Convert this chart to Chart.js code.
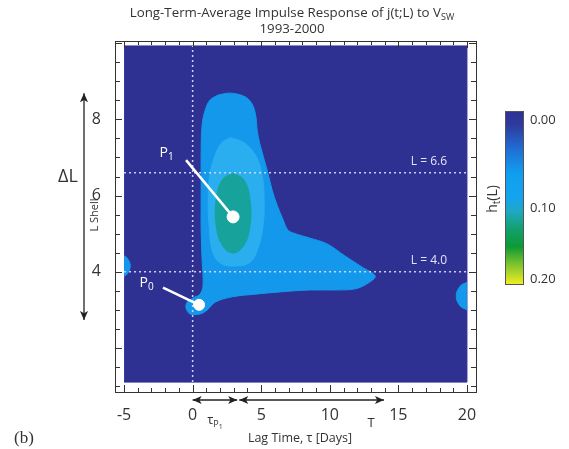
<!DOCTYPE html>
<html><head><meta charset="utf-8">
<script src="https://cdn.jsdelivr.net/npm/chart.js@4/dist/chart.umd.min.js"></script>
<style>html,body{margin:0;padding:0;background:#fff}#wrap{width:569px;height:449px;position:relative}</style>
</head><body><div id="wrap"><canvas id="c" width="569" height="449"></canvas></div>
<script>
// ---- data (x = lag time tau [days], y = L shell) ----
const xTickValues = [-5,-4,-3,-2,-1,0,1,2,3,4,5,6,7,8,9,10,11,12,13,14,15,16,17,18,19,20];
const xTickLabels = [-5,0,5,10,15,20];
const yTickValues = [1,1.5,2,2.5,3,3.5,4,4.5,5,5.5,6,6.5,7,7.5,8,8.5,9,9.5,10];
const yTickLabels = [4,6,8];
const plotBox = [[-5,1.1],[20,1.1],[20,9.93],[-5,9.93]];
// contour level ~0.02 (outer)
const level1 = [[1.86,8.64],[2.59,8.69],[3.32,8.66],[3.97,8.56],[4.41,8.35],[4.63,8.03],[4.70,7.72],[4.92,7.33],[5.43,6.67],[5.80,6.14],[6.16,5.75],[6.60,5.36],[6.96,5.09],[7.55,4.99],[8.57,4.88],[9.81,4.73],[11.12,4.41],[12.36,4.12],[13.31,3.89],[12.80,3.70],[11.85,3.55],[10.39,3.52],[8.57,3.52],[6.38,3.47],[4.55,3.41],[2.88,3.34],[1.64,3.20],[1.05,2.99],[0.54,2.89],[-0.19,2.89],[-0.48,3.05],[-0.40,3.20],[0.03,3.31],[0.54,3.41],[0.76,3.65],[0.69,4.31],[0.62,5.09],[0.62,6.14],[0.62,7.19],[0.69,7.85],[0.91,8.24],[1.27,8.51],[1.86,8.64]];
const blobLeft = [[-5,3.88],[-4.75,3.95],[-4.55,4.15],[-4.75,4.35],[-5,4.42]];
const blobRight = [[20,3.0],[19.5,3.1],[19.22,3.36],[19.5,3.62],[20,3.72]];
// contour level ~0.05
const level2 = [[2.73,7.52],[3.40,7.45],[4.05,7.30],[4.65,7.02],[5.07,6.54],[5.21,5.88],[5.14,5.23],[4.77,4.62],[4.19,4.25],[3.10,4.15],[2.00,4.23],[1.42,4.57],[1.20,5.23],[1.13,5.88],[1.25,6.54],[1.60,7.02],[2.10,7.38],[2.73,7.52]];
// contour level ~0.10 (core)
const level3 = [[2.95,6.59],[3.75,6.41],[4.19,5.88],[4.19,5.23],[3.75,4.70],[2.95,4.49],[2.15,4.70],[1.71,5.23],[1.71,5.88],[2.15,6.41],[2.95,6.59]];
const p1Point = [2.95,5.44];
const p0Point = [0.47,3.13];
const p1Leader = [[-0.48,6.93],[2.95,5.44]];
const p0Leader = [[-2.16,3.58],[0.47,3.13]];
const p1LabelPos = [-1.9,7.0];
const p0LabelPos = [-3.35,3.6];
const refL = [6.6,4.0];
const refLLabels = ['L = 6.6','L = 4.0'];
const refTau = 0;
const arrowTauP1 = [0,3.25];
const arrowT = [3.4,13.95];
const deltaLArrow = [2.73,8.69];
const colorbarTicks = ['0.00','0.10','0.20'];

const COL = {bg:'#2e3192', l1:'#1398ec', l2:'#2aaef0', l3:'#17a39c'};
const toXY = a => a.map(p => ({x:p[0], y:p[1]}));
function shape(d, color, order, tension){
  return {data: toXY(d), fill:'shape', backgroundColor:color, borderColor:color, borderWidth:1, pointRadius:0, tension:tension, order:order};
}
function dashed(d){
  return {data: toXY(d), fill:false, borderColor:'rgba(215,215,250,0.95)', borderWidth:1.5, borderDash:[2,3], pointRadius:0, order:3};
}

const FONT = '"Open Sans", "DejaVu Sans", sans-serif';

function drawArrowHead(ctx, x, y, ang, size){
  ctx.save(); ctx.translate(x,y); ctx.rotate(ang);
  ctx.beginPath(); ctx.moveTo(0,0); ctx.lineTo(-size, -size*0.45); ctx.lineTo(-size*0.75,0); ctx.lineTo(-size, size*0.45); ctx.closePath(); ctx.fill();
  ctx.restore();
}
function dblArrow(ctx,x1,y1,x2,y2){
  const a = Math.atan2(y2-y1,x2-x1);
  ctx.beginPath(); ctx.moveTo(x1,y1); ctx.lineTo(x2,y2); ctx.stroke();
  drawArrowHead(ctx,x2,y2,a,9); drawArrowHead(ctx,x1,y1,a+Math.PI,9);
}
function subText(ctx, parts, x, y, align){
  let w = 0;
  parts.forEach(p => { ctx.font = p[1]+'px '+FONT; w += ctx.measureText(p[0]).width; });
  let cx = align==='center' ? x - w/2 : (align==='right' ? x - w : x);
  ctx.textAlign = 'left';
  parts.forEach(p => { ctx.font = p[1]+'px '+FONT; ctx.fillText(p[0], cx, y + (p[2]||0)); cx += ctx.measureText(p[0]).width; });
}

const decor = {
  id:'decor',
  beforeDraw(chart){
    const ctx = chart.ctx; ctx.save(); ctx.fillStyle='#fff'; ctx.fillRect(0,0,chart.width,chart.height); ctx.restore();
  },
  afterDatasetsDraw(chart){
    const ctx = chart.ctx, xs = chart.scales.x, ys = chart.scales.y;
    ctx.save();
    ctx.fillStyle = '#ffffff'; ctx.textBaseline = 'alphabetic';
    subText(ctx, [['P',14,0],['1',10,3]], xs.getPixelForValue(p1LabelPos[0]), ys.getPixelForValue(p1LabelPos[1]), 'center');
    subText(ctx, [['P',14,0],['0',10,3]], xs.getPixelForValue(p0LabelPos[0]), ys.getPixelForValue(p0LabelPos[1]), 'center');
    ctx.fillStyle = '#e4e4f6';
    refL.forEach((L,i) => { subText(ctx, [[refLLabels[i],12,0]], xs.getPixelForValue(18.55), ys.getPixelForValue(L)-8, 'right'); });
    ctx.restore();
  },
  afterDraw(chart){
    const ctx = chart.ctx, xs = chart.scales.x, ys = chart.scales.y, a = chart.chartArea;
    ctx.save();
    ctx.strokeStyle = '#333'; ctx.lineWidth = 1;
    ctx.strokeRect(Math.round(a.left)+0.5, Math.round(a.top)+0.5, Math.round(a.right-a.left), Math.round(a.bottom-a.top));
    ctx.beginPath();
    xTickValues.forEach(v => {
      const px = Math.round(xs.getPixelForValue(v))+0.5; const len = (v%5===0)?7:4;
      ctx.moveTo(px, a.bottom); ctx.lineTo(px, a.bottom-len);
      ctx.moveTo(px, a.top); ctx.lineTo(px, a.top+len);
    });
    yTickValues.forEach(v => {
      const py = Math.round(ys.getPixelForValue(v))+0.5; const len = (v%2===0)?7:5;
      ctx.moveTo(a.left, py); ctx.lineTo(a.left+len, py);
      ctx.moveTo(a.right, py); ctx.lineTo(a.right-len, py);
    });
    ctx.stroke();
    ctx.fillStyle = '#333';
    subText(ctx, [['Long-Term-Average Impulse Response of j(t;L) to V',13.3,0],['SW',9,3]], 292, 17, 'center');
    subText(ctx, [['1993-2000',13.3,0]], 292, 33, 'center');
    subText(ctx, [['Lag Time, \u03c4 [Days]',12.5,0]], 300, 442, 'center');
    ctx.strokeStyle = '#222'; ctx.fillStyle = '#222'; ctx.lineWidth = 1.3;
    const ay = a.bottom + 8;
    dblArrow(ctx, xs.getPixelForValue(arrowTauP1[0]), ay, xs.getPixelForValue(arrowTauP1[1]), ay);
    dblArrow(ctx, xs.getPixelForValue(arrowT[0]), ay, xs.getPixelForValue(arrowT[1]), ay);
    ctx.fillStyle = '#333';
    subText(ctx, [['\u03c4',13,0],['P',9,3],['1',7,5]], xs.getPixelForValue((arrowTauP1[0]+arrowTauP1[1])/2), 424, 'center');
    subText(ctx, [['T',13,0]], xs.getPixelForValue(arrowT[1])-13, 427, 'center');
    ctx.save(); ctx.translate(98, 215); ctx.rotate(-Math.PI/2);
    subText(ctx, [['L Shell',11,0]], 0, 0, 'center'); ctx.restore();
    ctx.strokeStyle = '#222'; ctx.fillStyle = '#222'; ctx.lineWidth = 1.3;
    dblArrow(ctx, 84, ys.getPixelForValue(deltaLArrow[1]), 84, ys.getPixelForValue(deltaLArrow[0]));
    ctx.fillStyle = '#333';
    subText(ctx, [['\u0394L',18,0]], 68, 182, 'center');
    ctx.font = '17px "Liberation Serif", serif'; ctx.textAlign='left';
    ctx.fillText('(b)', 14, 443);
    const cbx = 505, cbt = 111, cbw = 19, cbh = 174;
    const g = ctx.createLinearGradient(0, cbt, 0, cbt+cbh);
    g.addColorStop(0, '#2e3192'); g.addColorStop(0.08, '#2f3a9f'); g.addColorStop(0.22, '#1f6fd4');
    g.addColorStop(0.36, '#109ff0'); g.addColorStop(0.5, '#13a4ee'); g.addColorStop(0.58, '#1fa8c0');
    g.addColorStop(0.68, '#12a06c'); g.addColorStop(0.78, '#0d9a34'); g.addColorStop(0.88, '#7cc22e'); g.addColorStop(1, '#f4f020');
    ctx.fillStyle = g; ctx.fillRect(cbx, cbt, cbw, cbh);
    ctx.strokeStyle = '#555'; ctx.lineWidth = 1; ctx.strokeRect(cbx+0.5, cbt+0.5, cbw-1, cbh-1);
    ctx.fillStyle = '#333';
    subText(ctx, [[colorbarTicks[0],13,0]], 530, 124, 'left');
    subText(ctx, [[colorbarTicks[1],13,0]], 530, 212, 'left');
    subText(ctx, [[colorbarTicks[2],13,0]], 530, 283, 'left');
    ctx.save(); ctx.translate(497, 199); ctx.rotate(-Math.PI/2);
    subText(ctx, [['h',14,0],['t',10,3],['(L)',14,0]], 0, 0, 'center'); ctx.restore();
    ctx.restore();
  }
};

new Chart(document.getElementById('c'), {
  type:'line',
  data:{ datasets:[
    shape(plotBox, COL.bg, 10, 0),
    shape(level1, COL.l1, 9, 0.35),
    shape(blobLeft, COL.l1, 9, 0.4),
    shape(blobRight, COL.l1, 9, 0.4),
    shape(level2, COL.l2, 8, 0.4),
    shape(level3, COL.l3, 7, 0.4),
    dashed([[refTau,1.1],[refTau,9.93]]),
    dashed([[-5,refL[0]],[20,refL[0]]]),
    dashed([[-5,refL[1]],[20,refL[1]]]),
    {data: toXY(p1Leader), borderColor:'#fff', borderWidth:2.5, pointRadius:0, fill:false, order:2},
    {data: toXY(p0Leader), borderColor:'#fff', borderWidth:2.5, pointRadius:0, fill:false, order:2},
    {data: toXY([p1Point]), showLine:false, pointRadius:6, pointBackgroundColor:'#fff', pointBorderColor:'#fff', order:1},
    {data: toXY([p0Point]), showLine:false, pointRadius:5.5, pointBackgroundColor:'#fff', pointBorderColor:'#fff', order:1}
  ]},
  options:{
    responsive:false, animation:false, devicePixelRatio:1,
    layout:{padding:{left:0, top:41, right:93, bottom:0}},
    plugins:{legend:{display:false}, tooltip:{enabled:false}},
    scales:{
      x:{type:'linear', min:-5.66, max:20.66,
         afterBuildTicks: s => { s.ticks = xTickValues.map(v => ({value:v})); },
         afterFit: s => { s.height = 57; },
         grid:{display:false}, border:{display:false},
         ticks:{autoSkip:false, maxRotation:0, padding:6, color:'#333', font:{family:FONT, size:16},
                callback: v => xTickLabels.includes(v) ? String(v) : ''}},
      y:{type:'linear', min:0.84, max:10.06,
         afterBuildTicks: s => { s.ticks = yTickValues.map(v => ({value:v})); },
         afterFit: s => { s.width = 115; },
         grid:{display:false}, border:{display:false},
         ticks:{autoSkip:false, padding:6, color:'#333', font:{family:FONT, size:16},
                callback: v => yTickLabels.includes(v) ? String(v) : ''}}
    }
  },
  plugins:[decor]
});
</script></body></html>
